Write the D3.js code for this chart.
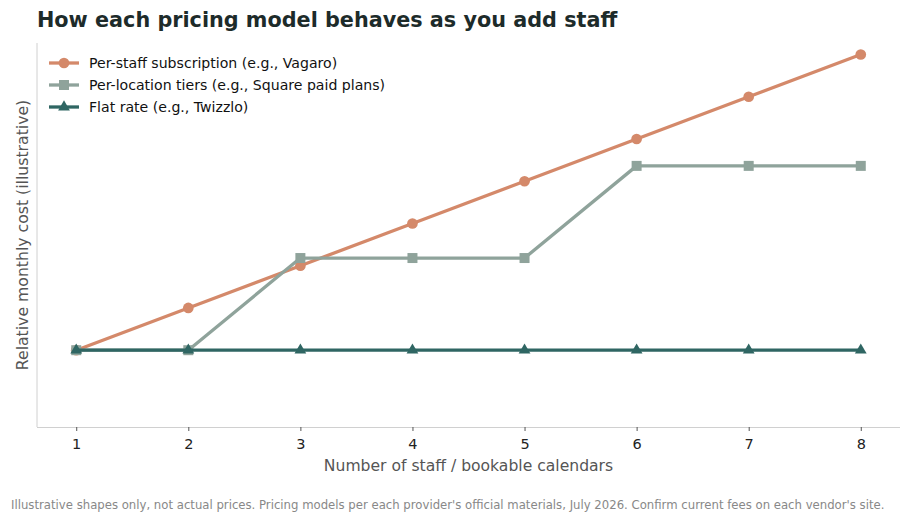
<!DOCTYPE html>
<html><head><meta charset="utf-8">
<script src="https://cdn.jsdelivr.net/npm/d3@7"></script>
<style>
body{margin:0;background:#fff;}
text{font-family:"DejaVu Sans",sans-serif;}
</style></head>
<body><svg id="c" width="911" height="521"></svg>
<script>
const staff = [1,2,3,4,5,6,7,8];
const perStaff = [20,31,42,53,64,75,86,97];
const perLocation = [20,20,44,44,44,68,68,68];
const flatRate = [20,20,20,20,20,20,20,20];
const seriesNames = ["Per-staff subscription (e.g., Vagaro)","Per-location tiers (e.g., Square paid plans)","Flat rate (e.g., Twizzlo)"];
const xTicks = [1,2,3,4,5,6,7,8];

const svg = d3.select("#c");
const L=37, R=900, T=43, B=427;
const x = d3.scaleLinear().domain([0.65,8.35]).range([L,R]);
const y = d3.scaleLinear().domain([0,100]).range([B,T]);

const series = [
  {name:seriesNames[0], vals:perStaff, color:"#D4896A", marker:"circle"},
  {name:seriesNames[1], vals:perLocation, color:"#8FA39B", marker:"square"},
  {name:seriesNames[2], vals:flatRate, color:"#2F6663", marker:"triangle"}
];

// spines
svg.append("line").attr("x1",L).attr("x2",L).attr("y1",T).attr("y2",B).attr("stroke","#d0d0d0").attr("stroke-width",1);
const xa = svg.append("g").attr("transform",`translate(0,${B})`)
  .call(d3.axisBottom(x).tickValues(xTicks).tickFormat(d3.format("d")).tickSize(4).tickPadding(8));
xa.select(".domain").attr("stroke","#d0d0d0").attr("d",`M${L},0.5H${R}`);
xa.selectAll(".tick line").attr("stroke","#555");
xa.selectAll(".tick text").attr("font-size",14.5).attr("fill","#222").attr("font-family","DejaVu Sans");

const sym = {circle:d3.symbolCircle, square:d3.symbolSquare, triangle:d3.symbolTriangle};
const symSize = {circle:90, square:100, triangle:60};

const line = d3.line().x((d,i)=>x(staff[i])).y(d=>y(d));
series.forEach(s=>{
  svg.append("path").attr("d",line(s.vals)).attr("fill","none").attr("stroke",s.color)
    .attr("stroke-width",3.3).attr("stroke-linejoin","round");
  svg.selectAll(null).data(s.vals).enter().append("path")
    .attr("d",d3.symbol().type(sym[s.marker]).size(symSize[s.marker]))
    .attr("transform",(d,i)=>`translate(${x(staff[i])},${y(d)+(s.marker==="triangle"?0:0)})`)
    .attr("fill",s.color);
});

// legend
series.forEach((s,i)=>{
  const ly = 63 + i*22;
  svg.append("line").attr("x1",49).attr("x2",79).attr("y1",ly).attr("y2",ly).attr("stroke",s.color).attr("stroke-width",3.3);
  svg.append("path").attr("d",d3.symbol().type(sym[s.marker]).size(symSize[s.marker]))
    .attr("transform",`translate(64,${ly})`).attr("fill",s.color);
  svg.append("text").attr("x",89).attr("y",ly+5).attr("font-size",14.1).attr("fill","#111").text(s.name);
});

svg.append("text").attr("x",37).attr("y",27).attr("font-size",20.75).attr("font-weight","bold").attr("fill","#1d2b2a")
  .text("How each pricing model behaves as you add staff");
svg.append("text").attr("x",(L+R)/2).attr("y",471).attr("text-anchor","middle").attr("font-size",15.6).attr("fill","#555")
  .text("Number of staff / bookable calendars");
svg.append("text").attr("transform",`translate(28,${(T+B)/2}) rotate(-90)`).attr("text-anchor","middle").attr("font-size",15.7).attr("fill","#555")
  .text("Relative monthly cost (illustrative)");
svg.append("text").attr("x",11).attr("y",509).attr("font-size",11.7).attr("fill","#888")
  .text("Illustrative shapes only, not actual prices. Pricing models per each provider's official materials, July 2026. Confirm current fees on each vendor's site.");
</script></body></html>
